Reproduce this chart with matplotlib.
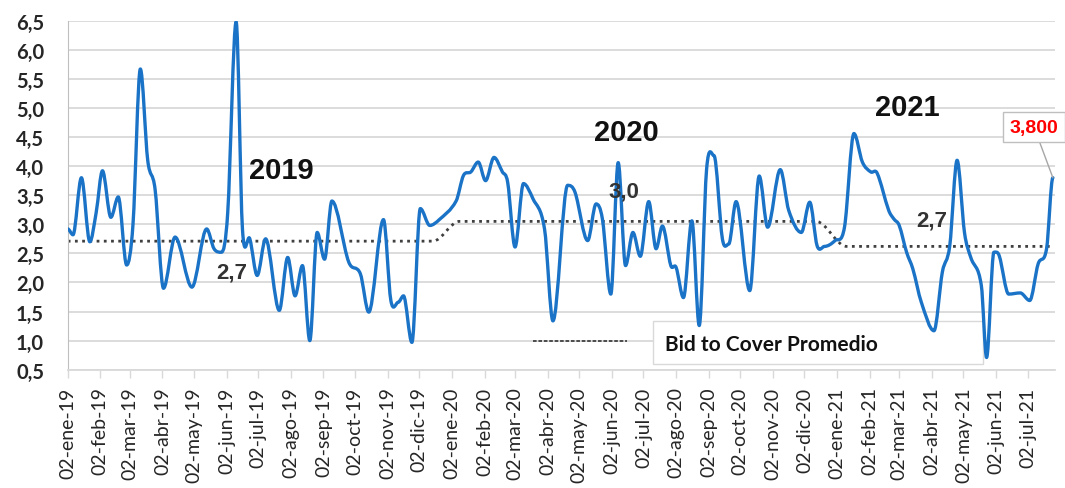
import matplotlib
matplotlib.use("Agg")
import matplotlib.pyplot as plt
import matplotlib.dates as mdates
from matplotlib.path import Path
from matplotlib.patches import PathPatch, Rectangle
from matplotlib.lines import Line2D
from matplotlib.ticker import FuncFormatter, MultipleLocator
import numpy as np
import pandas as pd

# Bid to cover por subasta
fechas = [
    "2019-01-02", "2019-01-07", "2019-01-15", "2019-01-23", "2019-01-29",
    "2019-02-04", "2019-02-12", "2019-02-19", "2019-02-27", "2019-03-05",
    "2019-03-12", "2019-03-19", "2019-03-26", "2019-04-03", "2019-04-14",
    "2019-04-30", "2019-05-14", "2019-05-21", "2019-05-28", "2019-06-03",
    "2019-06-11", "2019-06-17", "2019-06-24", "2019-07-01", "2019-07-09",
    "2019-07-22", "2019-07-30", "2019-08-06", "2019-08-13", "2019-08-20",
    "2019-08-27", "2019-09-03", "2019-09-10", "2019-09-26", "2019-10-07",
    "2019-10-15", "2019-10-29", "2019-11-05", "2019-11-12", "2019-11-17",
    "2019-11-25", "2019-12-03", "2019-12-12", "2019-12-21",
    "2020-01-06", "2020-01-13", "2020-01-20", "2020-01-27", "2020-02-03",
    "2020-02-11", "2020-02-19", "2020-02-24", "2020-03-02", "2020-03-10",
    "2020-03-19", "2020-03-30", "2020-04-07", "2020-04-21", "2020-04-28",
    "2020-05-10", "2020-05-18", "2020-05-24", "2020-06-01", "2020-06-08",
    "2020-06-15", "2020-06-22", "2020-06-29", "2020-07-07", "2020-07-14",
    "2020-07-20", "2020-07-28", "2020-08-02", "2020-08-09", "2020-08-17",
    "2020-08-24", "2020-08-31", "2020-09-07", "2020-09-15", "2020-09-21",
    "2020-09-28", "2020-10-11", "2020-10-20", "2020-10-28", "2020-11-09",
    "2020-11-17", "2020-11-29", "2020-12-07", "2020-12-14", "2020-12-21",
    "2020-12-31",
    "2021-01-09", "2021-01-18", "2021-01-26", "2021-02-03", "2021-02-09",
    "2021-02-20", "2021-02-25", "2021-03-02", "2021-03-09", "2021-03-15",
    "2021-03-23", "2021-04-04", "2021-04-12", "2021-04-19", "2021-04-26",
    "2021-05-03", "2021-05-09", "2021-05-19", "2021-05-24", "2021-05-31",
    "2021-06-05", "2021-06-14", "2021-06-25", "2021-07-04", "2021-07-12",
    "2021-07-20", "2021-07-26",
]
bid_to_cover = [
    2.92, 2.82, 3.80, 2.70, 3.20,
    3.92, 3.12, 3.47, 2.30, 3.00,
    5.67, 4.10, 3.60, 1.90, 2.78,
    1.92, 2.92, 2.58, 2.52, 3.20,
    6.48, 2.92, 2.75, 2.12, 2.75,
    1.52, 2.43, 1.77, 2.29, 1.00,
    2.86, 2.40, 3.40, 2.35, 2.15,
    1.49, 3.08, 1.69, 1.66, 1.77,
    0.97, 3.27, 2.98, 3.08,
    3.40, 3.84, 3.90, 4.07, 3.75,
    4.15, 3.90, 3.72, 2.61, 3.70,
    3.44, 2.92, 1.34, 3.67, 3.55,
    2.72, 3.35, 3.09, 1.80, 4.06,
    2.29, 2.86, 2.45, 3.39, 2.58,
    2.97, 2.29, 2.26, 1.74, 3.06,
    1.26, 3.95, 4.18, 2.75, 2.66,
    3.39, 1.86, 3.83, 2.95, 3.94,
    3.24, 2.86, 3.38, 2.63, 2.62,
    2.72,
    2.95, 4.56, 4.07, 3.90, 3.88,
    3.24, 3.09, 2.98, 2.52, 2.23,
    1.66, 1.17, 2.18, 2.63, 4.10,
    2.86, 2.43, 1.95, 0.71, 2.52,
    2.46, 1.80, 1.82, 1.69, 2.32,
    2.58, 3.80,
]

# promedio anual (linea punteada)
prom_fechas = ["2019-01-02", "2019-12-15", "2020-01-09", "2020-12-13", "2021-01-11", "2021-07-26"]
prom_valores = [2.71, 2.71, 3.05, 3.05, 2.62, 2.62]

meses = ["ene", "feb", "mar", "abr", "may", "jun", "jul", "ago", "sep", "oct", "nov", "dic"]


def curva_suave(x, y):
    # hermite cubico -> bezier, parecido a la linea suavizada de excel
    x = np.asarray(x, float)
    y = np.asarray(y, float)
    n = len(x)
    m = np.zeros(n)
    for i in range(1, n - 1):
        d1 = (y[i] - y[i - 1]) / (x[i] - x[i - 1])
        d2 = (y[i + 1] - y[i]) / (x[i + 1] - x[i])
        if d1 * d2 > 0:
            m[i] = (y[i + 1] - y[i - 1]) / (x[i + 1] - x[i - 1])
    verts = [(x[0], y[0])]
    codes = [Path.MOVETO]
    for i in range(n - 1):
        h = x[i + 1] - x[i]
        verts += [(x[i] + h / 3, y[i] + m[i] * h / 3),
                  (x[i + 1] - h / 3, y[i + 1] - m[i + 1] * h / 3),
                  (x[i + 1], y[i + 1])]
        codes += [Path.CURVE4] * 3
    return Path(verts, codes)


xs = mdates.date2num(pd.to_datetime(fechas))
xp = mdates.date2num(pd.to_datetime(prom_fechas))

fig = plt.figure(figsize=(10.65, 4.89), dpi=100)
ax = fig.add_axes([0.0636, 0.2419, 0.927, 0.7137])

ax.set_xlim(mdates.date2num(pd.Timestamp("2019-01-02")), mdates.date2num(pd.Timestamp("2021-07-28")))
ax.set_ylim(0.5, 6.5)

ax.yaxis.set_major_locator(MultipleLocator(0.5))
ax.yaxis.set_major_formatter(FuncFormatter(lambda v, p: f"{v:.1f}".replace(".", ",")))
ax.grid(axis="y", color="#d9d9d9", lw=1.3)
ax.set_axisbelow(True)

ax.xaxis.set_major_locator(mdates.MonthLocator(bymonthday=2))
ax.xaxis.set_major_formatter(FuncFormatter(
    lambda v, p: (lambda d: f"{d.day:02d}-{meses[d.month - 1]}-{d.year % 100:02d}")(mdates.num2date(v))))

for s in ["top", "right"]:
    ax.spines[s].set_visible(False)
ax.spines["left"].set_color("#bfbfbf")
ax.spines["bottom"].set_color("#d9d9d9")
ax.spines["bottom"].set_linewidth(1.3)

ax.tick_params(axis="y", length=0, pad=17)
ax.tick_params(axis="x", length=6, width=1, color="#d9d9d9", pad=6, labelrotation=90)
for lb in ax.get_yticklabels():
    lb.set_fontfamily("Lato")
    lb.set_fontweight("bold")
    lb.set_fontsize(14.5)
    lb.set_color("#262626")
for lb in ax.get_xticklabels():
    lb.set_fontfamily("Lato")
    lb.set_fontsize(14)
    lb.set_color("#262626")

ax.add_patch(PathPatch(curva_suave(xp, prom_valores), fill=False, edgecolor="#404040",
                       lw=2, linestyle=(0, (1, 1.6)), zorder=2))
ax.add_patch(PathPatch(curva_suave(xs, bid_to_cover), fill=False, edgecolor="#1a73c6",
                       lw=2.4, capstyle="round", joinstyle="round", zorder=3))

# etiquetas de anio y promedio
for txt, x, y in [("2019", 0.216, 0.572), ("2020", 0.566, 0.681), ("2021", 0.850, 0.753)]:
    ax.text(x, y, txt, transform=ax.transAxes, ha="center", va="center",
            fontsize=21, fontweight="bold", family="Liberation Sans", color="#111111")
for txt, x, y in [("2,7", 0.1665, 0.280), ("3,0", 0.5635, 0.512), ("2,7", 0.8754, 0.429)]:
    ax.text(x, y, txt, transform=ax.transAxes, ha="center", va="center",
            fontsize=16, fontweight="bold", family="Liberation Sans", color="#333333")

# ultimo dato
ax.annotate(f"{bid_to_cover[-1]:.3f}".replace(".", ","), xy=(xs[-1], bid_to_cover[-1]),
            xytext=(0.9788, 0.695), textcoords="axes fraction", ha="center", va="center",
            fontsize=14, fontweight="bold", family="Liberation Sans", color="#ff0000",
            bbox=dict(boxstyle="square,pad=0.35", fc="white", ec="#bfbfbf", lw=1),
            arrowprops=dict(arrowstyle="-", color="#a6a6a6", lw=1, shrinkA=0, shrinkB=0),
            annotation_clip=False, zorder=5)

# leyenda (el trazo queda por encima del recuadro)
ax.add_patch(Rectangle((0.593, 0.016), 0.334, 0.1235, transform=ax.transAxes,
                       fc="white", ec="#d9d9d9", lw=1, zorder=2.5))
ax.add_line(Line2D([0.4714, 0.5665], [0.082, 0.082], transform=ax.transAxes,
                   color="#404040", lw=1.3, linestyle=(0, (2, 1)), zorder=4))
ax.text(0.605, 0.0736, "Bid to Cover Promedio", transform=ax.transAxes, ha="left", va="center",
        fontsize=15, fontweight="bold", family="Lato", color="#111111", zorder=5)

fig.savefig("out.png", dpi=100)
